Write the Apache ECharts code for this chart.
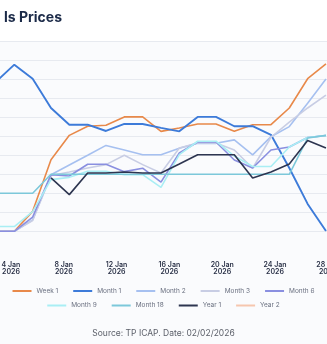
<!DOCTYPE html>
<html>
<head>
<meta charset="utf-8">
<script src="https://cdn.jsdelivr.net/npm/echarts@6/dist/echarts.min.js"></script>
<style>
  html, body { margin: 0; padding: 0; background: #ffffff; }
  #chart { width: 327px; height: 344px; }
</style>
</head>
<body>
<div id="chart"></div>
<script>
// Daily settlement curves, one value per trading session (oldest first).
const seriesNames = ['Week 1', 'Month 1', 'Month 2', 'Month 3', 'Month 6',
                     'Month 9', 'Month 18', 'Year 1', 'Year 2'];

const week1   = [0.00, 0.00, 1.05, 3.77, 5.05, 5.53, 5.58, 6.02, 6.02, 5.26, 5.44, 5.65, 5.65, 5.26, 5.61, 5.61, 6.49, 8.03, 8.81];
const month1  = [7.87, 8.77, 8.03, 6.49, 5.61, 5.61, 5.28, 5.65, 5.65, 5.44, 5.26, 6.02, 6.02, 5.53, 5.53, 5.08, 3.33, 1.44, 0.02];
const month2  = [0.00, 0.00, 0.60, 2.98, 3.49, 4.00, 4.52, 4.28, 4.03, 4.03, 4.37, 4.63, 4.63, 4.81, 4.02, 4.98, 5.51, 6.74, 8.02];
const month3  = [0.00, 0.00, 0.57, 2.94, 3.12, 3.33, 3.51, 4.00, 3.51, 3.07, 4.38, 4.65, 4.65, 4.28, 3.32, 4.95, 5.75, 6.49, 7.17];
const month6  = [0.00, 0.00, 0.75, 2.98, 2.91, 3.53, 3.53, 3.14, 3.32, 2.59, 4.12, 4.70, 4.70, 3.75, 3.33, 4.28, 4.44, 4.94, 5.04];
const month9  = [0.25, 0.25, 1.04, 2.72, 2.84, 3.16, 3.16, 2.98, 2.98, 2.31, 4.03, 4.74, 4.74, 3.96, 3.41, 3.41, 4.44, 4.94, 5.04];
const month18 = [2.00, 2.00, 2.00, 3.00, 3.00, 3.00, 3.00, 3.00, 3.00, 3.00, 3.00, 3.00, 3.00, 3.00, 3.00, 3.00, 3.00, 4.91, 5.05];
const year1   = [null, null, null, 2.81, 1.93, 3.07, 3.07, 3.12, 3.07, 3.07, 3.54, 4.03, 4.03, 4.03, 2.81, 3.12, 3.54, 4.78, 4.38];
const year2   = [null, null, null, null, null, null, null, null, null, null, null, null, null, null, null, null, null, null, null];

// Date axis tick labels (day of January 2026)
const tickDays = [4, 8, 12, 16, 20, 24, 28];
const tickMonth = 'Jan';
const tickYear = '2026';

const seriesValues = [week1, month1, month2, month3, month6, month9, month18, year1, year2];
const seriesColors = ['#e8894a', '#3d7bd9', '#a6c0f0', '#c8cde4', '#8a8fe0',
                      '#a9eef4', '#7cc8da', '#2d3550', '#f6c6ae'];

const FONT = 'Inter, "Noto Sans", sans-serif';

const chart = echarts.init(document.getElementById('chart'), null, { renderer: 'canvas' });

chart.setOption({
  animation: false,
  backgroundColor: '#ffffff',
  textStyle: { fontFamily: FONT },
  graphic: [{
    type: 'rect',
    z: -100,
    silent: true,
    shape: { x: 0, y: 41, width: 327, height: 303 },
    style: { fill: '#fafbfd' }
  }],
  title: [{
    text: 'ls Prices',
    left: -1,
    top: 6,
    textStyle: { fontFamily: FONT, fontSize: 14, fontWeight: 700, color: '#1b2a48' }
  }, {
    text: 'Source: TP ICAP. Date: 02/02/2026',
    left: 'center',
    top: 324,
    textStyle: { fontFamily: FONT, fontSize: 8.5, fontWeight: 400, color: '#5b5f69' }
  }],
  legend: [{
    data: seriesNames.slice(0, 5),
    left: 'center',
    top: 287.5,
    padding: 0,
    icon: 'rect',
    itemWidth: 19,
    itemHeight: 2,
    itemGap: 15,
    textStyle: { fontFamily: FONT, fontSize: 6.5, color: '#6a7080' }
  }, {
    data: seriesNames.slice(5),
    left: 'center',
    top: 302,
    padding: 0,
    icon: 'rect',
    itemWidth: 19,
    itemHeight: 2,
    itemGap: 15,
    textStyle: { fontFamily: FONT, fontSize: 6.5, color: '#6a7080' }
  }],
  // the plotting area runs past both edges of the canvas
  grid: {
    left: -4, width: 348.3, top: 41.3, height: 190,
    containLabel: false,
    outerBoundsMode: 'none'
  },
  xAxis: [{
    // session index axis used by the series
    type: 'value',
    min: 0,
    max: 19,
    show: false
  }, {
    // calendar axis carrying the date labels
    type: 'value',
    position: 'bottom',
    min: 2.864,
    max: 29.25,
    axisLine: { show: false },
    axisTick: { show: false },
    splitLine: { show: false },
    axisLabel: {
      customValues: tickDays,
      margin: 29.5,
      fontFamily: FONT,
      fontSize: 7,
      fontWeight: 600,
      lineHeight: 7.5,
      color: '#2a3147',
      formatter: (d) => `${d} ${tickMonth}\n${tickYear}`
    }
  }],
  yAxis: {
    type: 'value',
    min: 0,
    max: 10,
    interval: 1,
    axisLabel: { show: false },
    axisLine: { show: false },
    axisTick: { show: false },
    splitLine: { lineStyle: { color: '#e7eaf0', width: 1 } }
  },
  series: seriesNames.map((name, k) => ({
    name,
    type: 'line',
    xAxisIndex: 0,
    symbol: 'none',
    connectNulls: false,
    color: seriesColors[k],
    lineStyle: { width: k === 1 ? 1.9 : 1.6, color: seriesColors[k] },
    data: seriesValues[k].map((v, i) => [i, v])
  }))
});
</script>
</body>
</html>
